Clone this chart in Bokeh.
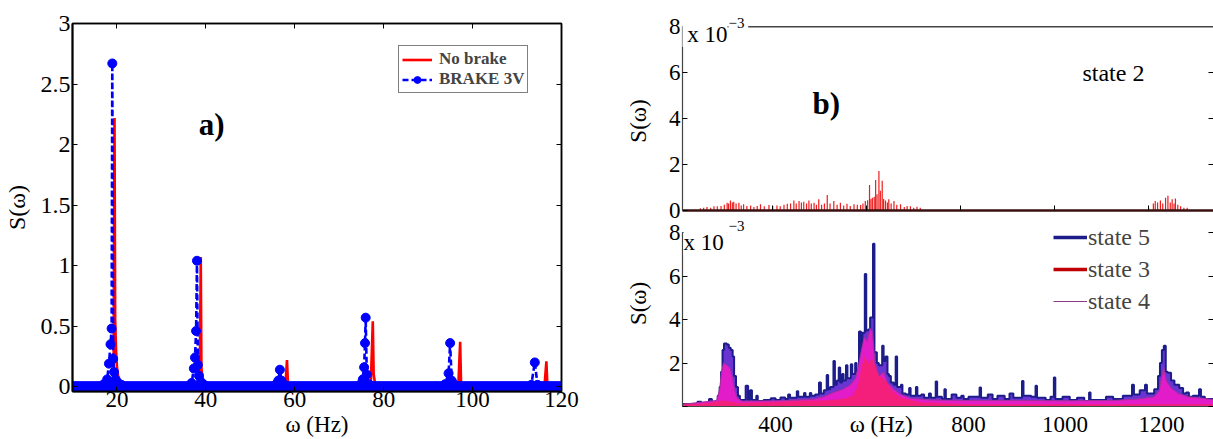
import numpy as np
from bokeh.plotting import figure
from bokeh.models import Range1d, LinearAxis, FixedTicker, Label, Legend, LegendItem, Span
from bokeh.layouts import row, column
from bokeh.embed import file_html
from bokeh.resources import INLINE

FONT = "Liberation Serif"

# ---------------- panel a) data ----------------
a_xticks = [20, 40, 60, 80, 100, 120]
a_yticks = [0, 0.5, 1, 1.5, 2, 2.5, 3]
a_ytick_labels = {0: "0", 0.5: "0.5", 1: "1", 1.5: "1.5", 2: "2", 2.5: "2.5", 3: "3"}

nobrake_freq = [10, 18.9, 19.25, 19.45, 19.6, 19.8, 20.0, 20.3, 20.7, 21.3,
                38.3, 38.65, 38.85, 39.0, 39.3, 40.0,
                57.9, 58.25, 58.45, 58.8,
                77.1, 77.55, 77.75, 78.0, 78.5,
                96.8, 97.2, 97.4, 97.8,
                116.2, 116.6, 116.8, 117.2, 120]
nobrake_S = [0.005, 0.02, 0.09, 2.22, 0.55, 0.3, 0.16, 0.08, 0.04, 0.01,
             0.03, 0.15, 1.07, 0.15, 0.05, 0.01,
             0.02, 0.22, 0.04, 0.01,
             0.02, 0.54, 0.1, 0.04, 0.01,
             0.02, 0.37, 0.03, 0.01,
             0.02, 0.21, 0.03, 0.01, 0.005]

brake_freq = [17.0, 17.8, 18.2, 18.55, 18.8, 18.95, 19.15, 19.35, 19.7, 20.3, 21.0,
              36.8, 37.3, 37.55, 37.8, 38.0, 38.2, 38.45, 38.9, 39.6,
              55.8, 56.3, 56.65, 57.0, 57.6,
              74.8, 75.3, 75.6, 75.8, 75.95, 76.2, 76.7,
              93.8, 94.6, 94.95, 95.3, 96.0,
              113.2, 114.0, 114.6]
brake_S = [0.02, 0.06, 0.19, 0.35, 0.48, 2.67, 0.23, 0.12, 0.06, 0.03, 0.015,
           0.03, 0.15, 0.24, 0.46, 1.04, 0.18, 0.09, 0.04, 0.015,
           0.02, 0.05, 0.14, 0.05, 0.015,
           0.02, 0.06, 0.16, 0.36, 0.57, 0.1, 0.02,
           0.02, 0.11, 0.36, 0.05, 0.015,
           0.015, 0.2, 0.015]
# flat floor of the BRAKE 3V spectrum (sampling grid, value read as ~0)
brake_floor_freq = np.arange(10.0, 120.01, 0.5)
brake_floor_S = np.zeros(len(brake_floor_freq))

# ---------------- panel b) data (values in units of 1e-3) ----------------
b_xticks = [400, 600, 800, 1000, 1200]
b_yticks = [0, 2, 4, 6, 8]
b_xlabel_pos = 619

state2_freq = [246, 253, 260, 268, 275, 282, 290, 297, 303, 306, 310, 314, 317, 322, 328, 333, 338,
               345, 353, 360, 367, 374, 382, 392, 400, 409, 416, 424, 431, 438, 445, 450, 456,
               461, 466, 472, 477, 482, 488, 493, 498, 504, 510, 516, 522, 530, 537, 544, 551,
               558, 565, 573, 580, 587, 592, 597, 602, 606, 609, 612, 616, 619, 622, 626, 629,
               633, 636, 640, 644, 647, 652, 658, 664, 672, 680, 686, 693, 700, 707, 714,
               1200, 1210, 1214, 1219, 1225, 1230, 1236, 1241, 1246, 1250, 1254, 1257, 1262,
               1268, 1275, 1282]
state2_S = [0.1, 0.12, 0.15, 0.12, 0.18, 0.19, 0.2, 0.25, 0.34, 0.3, 0.44, 0.35, 0.38, 0.3, 0.34, 0.22, 0.27,
            0.2, 0.22, 0.15, 0.2, 0.27, 0.18, 0.24, 0.2, 0.22, 0.18, 0.25, 0.29, 0.3, 0.44, 0.3, 0.41,
            0.35, 0.38, 0.3, 0.44, 0.3, 0.34, 0.25, 0.49, 0.25, 0.3, 0.67, 0.3, 0.41, 0.25, 0.34, 0.22,
            0.29, 0.2, 0.27, 0.25, 0.24, 0.3, 0.41, 0.45, 1.11, 0.5, 0.56, 0.6, 1.33, 0.71, 1.72, 0.86,
            1.3, 0.5, 0.44, 0.35, 0.49, 0.3, 0.41, 0.25, 0.27, 0.15, 0.2, 0.19, 0.12, 0.16, 0.12,
            0.1, 0.3, 0.41, 0.35, 0.44, 0.3, 0.56, 0.64, 0.35, 0.49, 0.3, 0.52, 0.25,
            0.19, 0.12, 0.12]

state5_freq = [207, 238, 246, 262, 268, 280, 284, 287, 290, 293, 299, 303, 307, 311, 314, 318, 322, 326,
               338, 343, 347, 351, 360, 363, 375, 390, 400, 410, 420, 426, 430, 444, 447, 459, 462,
               471, 474, 482, 490, 494, 500, 506, 509, 513, 520, 523, 527, 531, 534, 538, 541, 546,
               549, 556, 559, 565, 568, 573, 577, 580, 585, 588, 592, 596, 602, 605, 610, 614, 621,
               624, 628, 632, 635, 639, 645, 649, 652, 660, 663, 670, 677, 680, 691, 694, 702, 708,
               718, 722, 732, 735, 745, 750, 753, 765, 775, 785, 790, 800, 823, 826, 840, 850, 860,
               875, 885, 893, 911, 914, 930, 939, 942, 960, 970, 977, 980, 995, 1010, 1025, 1040,
               1050, 1053, 1070, 1085, 1100, 1120, 1139, 1143, 1155, 1166, 1170, 1185, 1193, 1197,
               1201, 1205, 1209, 1213, 1220, 1227, 1237, 1245, 1251, 1257, 1265, 1278, 1282, 1290, 1308]
state5_S = [0.12, 0.22, 0.12, 0.35, 0.15, 0.5, 0.9, 1.6, 2.6, 2.9, 2.85, 2.7, 2.6, 2.3, 1.4, 0.9, 0.5, 0.3,
            0.95, 0.3, 0.75, 0.3, 0.5, 0.25, 0.3, 0.38, 0.3, 0.42, 0.35, 0.55, 0.4, 0.7, 0.45, 0.62, 0.45,
            0.62, 0.5, 0.55, 1.1, 0.6, 0.75, 1.45, 0.8, 0.9, 2.1, 1.0, 1.2, 1.8, 1.1, 1.5, 1.2, 1.9,
            1.3, 1.95, 1.5, 2.0, 1.6, 3.45, 2.2, 3.4, 6.1, 3.5, 3.55, 4.1, 7.5, 2.5, 2.0, 1.9, 2.8,
            2.1, 2.3, 1.5, 1.4, 1.1, 1.0, 2.3, 0.9, 1.0, 0.6, 0.55, 0.85, 0.5, 0.9, 0.5, 0.55, 0.4,
            0.6, 0.4, 1.15, 0.45, 0.35, 0.8, 0.35, 0.55, 0.4, 0.5, 0.35, 0.45, 0.87, 0.4, 0.55, 0.35, 0.5,
            0.35, 0.6, 0.4, 1.18, 0.5, 0.45, 0.95, 0.4, 0.3, 0.45, 1.33, 0.35, 0.45, 0.3, 0.4, 0.25,
            0.65, 0.3, 0.3, 0.45, 0.35, 0.5, 1.0, 0.55, 0.75, 1.0, 0.6, 0.8, 1.4, 2.0,
            2.6, 2.8, 1.6, 1.55, 1.2, 1.0, 0.85, 0.6, 0.65, 0.45, 0.5, 0.8, 0.45, 0.35, 0.3]

state4_freq = [207, 278, 284, 288, 292, 300, 306, 311, 315, 320, 330, 400, 450, 480, 500, 520, 540, 555,
               566, 572, 578, 584, 590, 596, 601, 606, 615, 624, 632, 645, 660, 680, 720, 800, 900,
               1000, 1100, 1150, 1185, 1195, 1200, 1205, 1210, 1220, 1235, 1255, 1308]
state4_S = [0.1, 0.28, 0.8, 1.6, 2.0, 1.9, 1.75, 1.3, 0.8, 0.4, 0.25, 0.26, 0.3, 0.34, 0.45, 0.65, 0.8, 1.0,
            1.3, 1.9, 2.6, 3.2, 3.0, 3.6, 3.4, 2.0, 1.4, 1.6, 1.1, 0.8, 0.55, 0.38, 0.3, 0.28, 0.28,
            0.26, 0.28, 0.34, 0.45, 0.7, 1.3, 1.8, 1.2, 0.85, 0.6, 0.45, 0.32]

state3_freq = [207, 240, 270, 290, 300, 320, 400, 450, 500, 540, 560, 570, 578, 584, 592, 600, 606,
               612, 622, 632, 642, 660, 700, 800, 1000, 1308]
state3_S = [0.15, 0.12, 0.2, 0.28, 0.25, 0.16, 0.2, 0.26, 0.28, 0.35, 0.5, 0.9, 1.8, 2.3, 2.0, 2.2, 1.9,
            1.5, 1.3, 1.1, 0.7, 0.4, 0.2, 0.1, 0.1, 0.1]


def style_axis(ax, size=None, standoff=2, tick_in=5, line_color="black", line_width=1.5):
    ax.major_tick_in = tick_in
    ax.major_tick_out = 0
    ax.minor_tick_in = 0
    ax.minor_tick_out = 0
    ax.axis_line_color = line_color
    ax.axis_line_width = line_width
    ax.major_tick_line_color = "black"
    ax.major_tick_line_width = 1
    ax.major_label_text_font = FONT
    ax.major_label_text_color = "black"
    ax.axis_label_text_font = FONT
    ax.axis_label_text_font_style = "normal"
    ax.axis_label_text_color = "black"
    if size is None:
        ticks = list(ax.ticker.ticks)
        ax.major_label_overrides = {t: "" for t in ticks}
        ax.major_label_text_color = None
        ax.major_label_standoff = 0
    else:
        ax.major_label_text_font_size = size
        ax.major_label_standoff = standoff


def add_label(p, x, y, text, size, bold=False, align="left", bg=None):
    lab = Label(x=x, y=y, text=text, text_font=FONT, text_font_size=size,
                text_font_style="bold" if bold else "normal",
                text_align=align, text_baseline="alphabetic", text_color="black")
    if bg is not None:
        lab.background_fill_color = bg
    p.add_layout(lab)
    return lab


# ---------------- panel a) ----------------
pa = figure(width=600, height=439, x_range=Range1d(10, 120), y_range=Range1d(-0.04, 3),
            output_backend="svg", toolbar_location=None,
            min_border_left=70, min_border_right=39, min_border_top=23, min_border_bottom=48)
pa.grid.visible = False
pa.outline_line_color = "black"
pa.outline_line_width = 1.5
pa.xaxis[0].ticker = FixedTicker(ticks=a_xticks)
pa.yaxis[0].ticker = FixedTicker(ticks=a_yticks)
style_axis(pa.xaxis[0], "23px", standoff=0, line_width=2)
style_axis(pa.yaxis[0], "24px", standoff=2, line_width=2)
pa.yaxis[0].major_label_overrides = a_ytick_labels
pa.xaxis[0].axis_label = "ω (Hz)"
pa.xaxis[0].axis_label_text_font_size = "23px"
pa.xaxis[0].axis_label_standoff = 2
pa.yaxis[0].axis_label = "S(ω)"
pa.yaxis[0].axis_label_text_font_size = "24px"
pa.yaxis[0].axis_label_standoff = 8
ax_top = LinearAxis(ticker=FixedTicker(ticks=a_xticks))
style_axis(ax_top, None, line_width=1.5)
pa.add_layout(ax_top, "above")
ax_right = LinearAxis(ticker=FixedTicker(ticks=a_yticks))
style_axis(ax_right, None, line_width=1.5)
pa.add_layout(ax_right, "right")

r_red = pa.line(nobrake_freq, nobrake_S, line_color="#ff0000", line_width=2.6)
r_blue_line = pa.line(brake_freq, brake_S, line_color="#0000ff", line_width=2.6, line_dash="6 3")
r_blue_floor = pa.scatter(brake_floor_freq, brake_floor_S, marker="circle", size=10,
                          fill_color="#0000ff", line_color="#0000ff")
r_blue_pts = pa.scatter(brake_freq, brake_S, marker="circle", size=9,
                        fill_color="#0000ff", line_color="#0000ff")

leg_a = Legend(items=[LegendItem(label="No brake", renderers=[r_red]),
                      LegendItem(label="BRAKE 3V", renderers=[r_blue_line, r_blue_pts])],
               location=(326, 298))
leg_a.label_text_font = FONT
leg_a.label_text_font_size = "17px"
leg_a.label_text_font_style = "bold"
leg_a.glyph_width = 30
leg_a.glyph_height = 17
leg_a.label_height = 17
leg_a.label_standoff = 7
leg_a.padding = 3
leg_a.spacing = 0
leg_a.margin = 0
leg_a.border_line_color = "black"
leg_a.border_line_width = 1
leg_a.background_fill_color = "white"
leg_a.background_fill_alpha = 1
pa.add_layout(leg_a)

add_label(pa, 38.4, 2.165, "a)", "31px", bold=True)

# ---------------- panel b) top ----------------
pb1 = figure(width=613, height=226, x_range=Range1d(208, 1338), y_range=Range1d(0, 8.8),
             output_backend="svg", toolbar_location=None,
             min_border_left=82, min_border_right=0, min_border_top=8, min_border_bottom=16)
pb1.grid.visible = False
pb1.outline_line_color = None
pb1.xaxis[0].ticker = FixedTicker(ticks=b_xticks)
style_axis(pb1.xaxis[0], None, tick_in=5, line_color="#3a1010", line_width=2.5)
pb1.yaxis[0].ticker = FixedTicker(ticks=b_yticks)
style_axis(pb1.yaxis[0], "23px", standoff=2, tick_in=5, line_color="#444444", line_width=1.2)
pb1.yaxis[0].bounds = (0, 8)
pb1.yaxis[0].axis_label = "S(ω)\u2003"
pb1.yaxis[0].axis_label_text_font_size = "23px"
pb1.yaxis[0].axis_label_standoff = 15
r1 = LinearAxis(ticker=FixedTicker(ticks=[2, 4, 6]))
style_axis(r1, None, tick_in=5, line_color=None)
pb1.add_layout(r1, "right")
pb1.add_layout(Span(location=8, dimension="width", line_color="#444444", line_width=1.5))

pb1.segment(x0=state2_freq, y0=[0] * len(state2_freq), x1=state2_freq, y1=state2_S,
            line_color="#ee1c1c", line_width=1.2)

add_label(pb1, 205.9, 7.67, "\u00a0x 10", "23px", bg="white")
add_label(pb1, 305.9, 8.15, "−3\u00a0", "15px", bg="white")
add_label(pb1, 484.6, 4.64, "b)", "31px", bold=True)
add_label(pb1, 1059, 5.99, "state 2", "24px")

# ---------------- panel b) bottom ----------------
pb2 = figure(width=613, height=224, x_range=Range1d(207, 1308), y_range=Range1d(0, 8.75),
             output_backend="svg", toolbar_location=None,
             min_border_left=82, min_border_right=0, min_border_top=1, min_border_bottom=33)
pb2.margin = (-11, 0, 0, 0)
pb2.border_fill_alpha = 0
pb2.background_fill_alpha = 0
pb2.grid.visible = False
pb2.outline_line_color = None
pb2.xaxis[0].ticker = FixedTicker(ticks=[400, b_xlabel_pos, 800, 1000, 1200])
style_axis(pb2.xaxis[0], "23px", standoff=5, tick_in=0, line_color="#444444", line_width=1.2)
pb2.xaxis[0].major_label_overrides = {b_xlabel_pos: "ω (Hz)"}
pb2.yaxis[0].ticker = FixedTicker(ticks=b_yticks)
style_axis(pb2.yaxis[0], "23px", standoff=2, tick_in=5, line_color="#444444", line_width=1.2)
pb2.yaxis[0].major_label_overrides = {0: ""}
pb2.yaxis[0].bounds = (0, 8)
pb2.yaxis[0].axis_label = "\u2002\u2009S(ω)"
pb2.yaxis[0].axis_label_text_font_size = "23px"
pb2.yaxis[0].axis_label_standoff = 15
r2 = LinearAxis(ticker=FixedTicker(ticks=b_yticks))
style_axis(r2, None, tick_in=5, line_color=None)
pb2.add_layout(r2, "right")

pb2.varea_step(x=state5_freq, y1=[0] * len(state5_freq), y2=state5_S, step_mode="after",
               fill_color="#6a34d2")
pb2.step(state5_freq, state5_S, mode="after", line_color="#1c1c8a", line_width=2)
pb2.varea(x=state4_freq, y1=[0] * len(state4_freq), y2=state4_S, fill_color="#e21cc8")
pb2.varea(x=state3_freq, y1=[0] * len(state3_freq), y2=state3_S, fill_color="#ff2248", fill_alpha=0.6)
pb2.line(state4_freq, state4_S, line_color="#a0309a", line_width=1)

# legend keys (series shown only as legend swatches; muted in the plot area)
leg_s5 = pb2.line(state5_freq, state5_S, line_color="#1c1c8a", line_width=3.5, muted_alpha=0)
leg_s3 = pb2.line(state3_freq, state3_S, line_color="#c00000", line_width=3.5, muted_alpha=0)
leg_s4 = pb2.line(state4_freq, state4_S, line_color="#8e3b84", line_width=1.2, muted_alpha=0)
for rr in (leg_s5, leg_s3, leg_s4):
    rr.muted = True

leg_b = Legend(items=[LegendItem(label="state 5", renderers=[leg_s5]),
                      LegendItem(label="state 3", renderers=[leg_s3]),
                      LegendItem(label="state 4", renderers=[leg_s4])],
               location=(371, 90))
leg_b.label_text_font = FONT
leg_b.label_text_font_size = "24px"
leg_b.glyph_width = 34
leg_b.glyph_height = 30
leg_b.label_height = 30
leg_b.label_standoff = 1
leg_b.padding = 0
leg_b.spacing = 2
leg_b.margin = 0
leg_b.border_line_color = None
leg_b.background_fill_alpha = 0
leg_b.inactive_fill_alpha = 0
pb2.add_layout(leg_b)

add_label(pb2, 209, 7.55, "x 10", "23px", bg="white")
add_label(pb2, 302.3, 8.29, "−3", "15px")

layout = row(pa, column(pb1, pb2, spacing=0), spacing=0)
open("out.html", "w").write(file_html(layout, INLINE))
